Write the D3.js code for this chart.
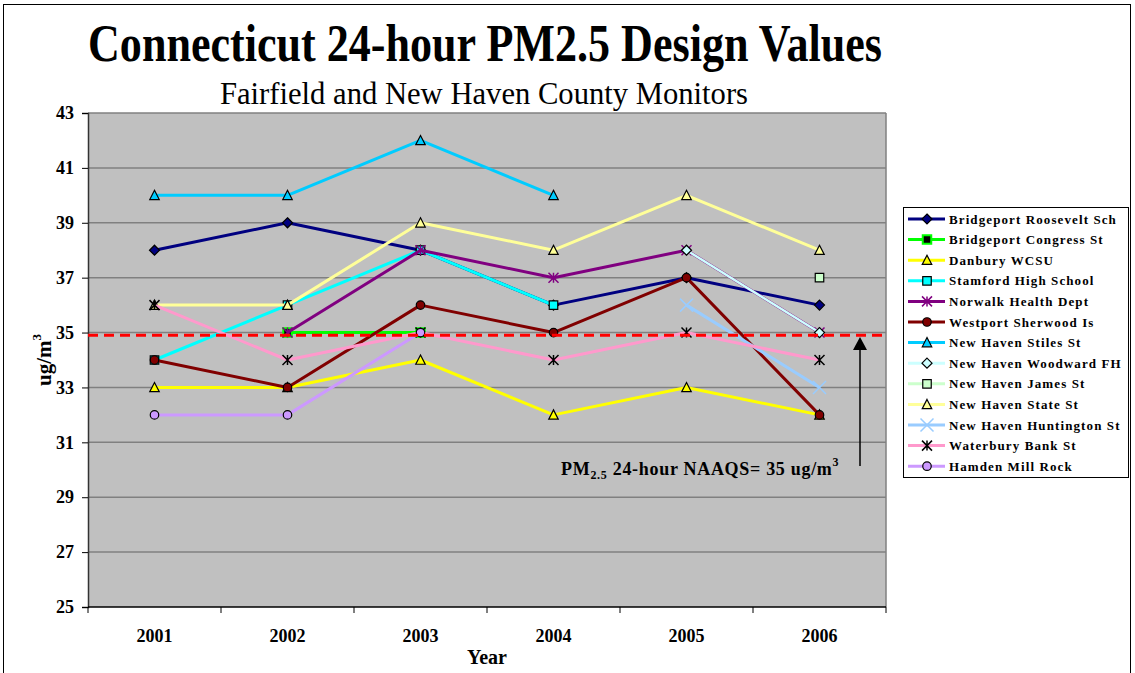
<!DOCTYPE html>
<html>
<head>
<meta charset="utf-8">
<script src="https://cdn.jsdelivr.net/npm/d3@7"></script>
<style>
  html, body { margin: 0; padding: 0; background: #fff; }
  svg { display: block; }
  text { font-family: "Liberation Serif", "Times New Roman", serif; }
</style>
</head>
<body>
<svg id="chart" width="1135" height="673"></svg>
<script>
// ---- data ----
const years = ["2001", "2002", "2003", "2004", "2005", "2006"];
const yTicks = [25, 27, 29, 31, 33, 35, 37, 39, 41, 43];
const naaqs = 34.9;

const seriesNames = [
  "Bridgeport Roosevelt Sch", "Bridgeport Congress St", "Danbury WCSU",
  "Stamford High School", "Norwalk Health Dept", "Westport Sherwood Is",
  "New Haven Stiles St", "New Haven Woodward FH", "New Haven James St",
  "New Haven State St", "New Haven Huntington St", "Waterbury Bank St",
  "Hamden Mill Rock"
];
const bridgeportRoosevelt = [38, 39, 38, 36, 37, 36];
const bridgeportCongress  = [null, 35, 35, null, null, null];
const danbury             = [33, 33, 34, 32, 33, 32];
const stamford            = [34, 36, 38, 36, null, null];
const norwalk             = [null, 35, 38, 37, 38, 35];
const westport            = [34, 33, 36, 35, 37, 32];
const stiles              = [40, 40, 42, 40, null, null];
const woodward            = [null, null, null, null, 38, 35];
const james               = [null, null, null, null, null, 37];
const stateSt             = [36, 36, 39, 38, 40, 38];
const huntington          = [null, null, null, null, 36, 33];
const waterbury           = [36, 34, 35, 34, 35, 34];
const hamden              = [32, 32, 35, null, null, null];
const seriesValues = [bridgeportRoosevelt, bridgeportCongress, danbury, stamford,
  norwalk, westport, stiles, woodward, james, stateSt, huntington, waterbury, hamden];

// ---- styles ----
const styles = [
  {color: "#000080", marker: "diamond", fill: "#000080", stroke: "#000", w: 3},
  {color: "#00FF00", marker: "square", fill: "#000", stroke: "#00FF00", w: 3},
  {color: "#FFFF00", marker: "triangle", fill: "#FFFF00", stroke: "#000", w: 3},
  {color: "#00FFFF", marker: "square", fill: "#00FFFF", stroke: "#000", w: 3},
  {color: "#800080", marker: "asterisk", fill: "none", stroke: "#800080", w: 3},
  {color: "#800000", marker: "circle", fill: "#800000", stroke: "#000", w: 3},
  {color: "#00CCFF", marker: "triangle", fill: "#00CCFF", stroke: "#000", w: 3},
  {color: "#CCFFFF", marker: "diamond", fill: "#CCFFFF", stroke: "#000", w: 2.5},
  {color: "#CCFFCC", marker: "square", fill: "#CCFFCC", stroke: "#000", w: 3},
  {color: "#FFFF99", marker: "triangle", fill: "#FFFF99", stroke: "#000", w: 3},
  {color: "#99CCFF", marker: "x", fill: "none", stroke: "#99CCFF", w: 3},
  {color: "#FF99CC", marker: "asterisk", fill: "none", stroke: "#000", w: 3},
  {color: "#CC99FF", marker: "circle", fill: "#CC99FF", stroke: "#000", w: 3}
];

const svg = d3.select("#chart");
const M = {left: 88, right: 886, top: 113, bottom: 607};

const x = d3.scaleBand().domain(years).range([M.left, M.right]).padding(0);
const y = d3.scaleLinear().domain([25, 43]).range([M.bottom, M.top]);
const cx = d => x(d) + x.bandwidth() / 2;

// outer frame
svg.append("rect").attr("x", 3.5).attr("y", 4.5).attr("width", 1127).attr("height", 680)
  .attr("fill", "none").attr("stroke", "#000").attr("stroke-width", 1);

// plot background
svg.append("rect").attr("x", M.left).attr("y", M.top)
  .attr("width", M.right - M.left).attr("height", M.bottom - M.top)
  .attr("fill", "#C0C0C0");

// gridlines
svg.append("g").selectAll("line").data(yTicks.filter(t => t > 25)).join("line")
  .attr("x1", M.left).attr("x2", M.right)
  .attr("y1", d => y(d)).attr("y2", d => y(d))
  .attr("stroke", "#808080").attr("stroke-width", 1.5);
// right border
svg.append("line").attr("x1", M.right).attr("x2", M.right).attr("y1", M.top).attr("y2", M.bottom)
  .attr("stroke", "#808080").attr("stroke-width", 1.5);

// y axis
const yAxis = svg.append("g").attr("transform", `translate(${M.left},0)`)
  .call(d3.axisLeft(y).tickValues(yTicks).tickSize(6).tickPadding(8));
yAxis.select(".domain").attr("stroke", "#333").attr("stroke-width", 1.5);
yAxis.selectAll(".tick line").attr("stroke", "#000");
yAxis.selectAll("text").attr("font-family", "Liberation Serif").attr("font-weight", "bold")
  .attr("font-size", 18).attr("fill", "#000");

// x axis (ticks at band boundaries)
const xAxisG = svg.append("g").attr("transform", `translate(0,${M.bottom})`);
xAxisG.append("line").attr("x1", M.left).attr("x2", M.right).attr("y1", 0).attr("y2", 0)
  .attr("stroke", "#000").attr("stroke-width", 1.5);
const bounds = years.map(d => x(d)).concat([x(years[years.length - 1]) + x.bandwidth()]);
xAxisG.selectAll("line.tk").data(bounds).join("line").attr("class", "tk")
  .attr("x1", d => d).attr("x2", d => d).attr("y1", 0).attr("y2", 6)
  .attr("stroke", "#000");
xAxisG.selectAll("text").data(years).join("text")
  .attr("x", d => cx(d)).attr("y", 35).attr("text-anchor", "middle")
  .attr("font-weight", "bold").attr("font-size", 18).text(d => d);

// marker path generator
function markerPath(type, s) {
  switch (type) {
    case "diamond": return `M0,${-s}L${s},0L0,${s}L${-s},0Z`;
    case "square": return `M${-s*0.85},${-s*0.85}H${s*0.85}V${s*0.85}H${-s*0.85}Z`;
    case "triangle": return `M0,${-s}L${s*0.95},${s*0.85}H${-s*0.95}Z`;
    case "circle": return d3.arc()({innerRadius: 0, outerRadius: s * 0.85, startAngle: 0, endAngle: 2 * Math.PI});
    case "x": return `M${-s*1.3},${-s*1.3}L${s*1.3},${s*1.3}M${s*1.3},${-s*1.3}L${-s*1.3},${s*1.3}`;
    case "asterisk": return `M${-s},${-s}L${s},${s}M${s},${-s}L${-s},${s}M0,${-s}V${s}`;
  }
}
function drawMarker(g, st, px, py) {
  const open = (st.marker === "x" || st.marker === "asterisk");
  g.append("path").attr("d", markerPath(st.marker, 5))
    .attr("transform", `translate(${px},${py})`)
    .attr("fill", open ? "none" : st.fill)
    .attr("stroke", st.stroke)
    .attr("stroke-width", open ? 1.5 : (st.marker === "square" && st.stroke !== "#000" ? 2 : 1.2));
}

// series
const line = d3.line().defined(d => d.v !== null).x(d => cx(d.year)).y(d => y(d.v));
const seriesG = svg.append("g");
seriesValues.forEach((vals, i) => {
  const st = styles[i];
  const pts = years.map((yr, j) => ({year: yr, v: vals[j]}));
  const g = seriesG.append("g");
  g.append("path").datum(pts).attr("d", line).attr("fill", "none")
    .attr("stroke", st.color).attr("stroke-width", st.w).attr("stroke-linejoin", "round");
  pts.filter(p => p.v !== null).forEach(p => drawMarker(g, st, cx(p.year), y(p.v)));
});

// NAAQS dashed line
svg.append("line").attr("x1", M.left).attr("x2", M.right + 2)
  .attr("y1", y(naaqs)).attr("y2", y(naaqs))
  .attr("stroke", "#FF0000").attr("stroke-width", 3).attr("stroke-dasharray", "10,6");

// arrow
svg.append("line").attr("x1", 860).attr("x2", 860).attr("y1", 466).attr("y2", 350)
  .attr("stroke", "#000").attr("stroke-width", 1.5);
svg.append("path").attr("d", "M860,337L853,350H867Z").attr("fill", "#000");

// annotation
const ann = svg.append("text").attr("x", 561).attr("y", 475)
  .attr("font-weight", "bold").attr("font-size", 18).attr("letter-spacing", 0.7);
ann.append("tspan").text("PM");
ann.append("tspan").attr("font-size", 12).attr("dy", 4).text("2.5");
ann.append("tspan").attr("dy", -4).text(" 24-hour NAAQS= 35 ug/m");
ann.append("tspan").attr("font-size", 12).attr("dy", -9).text("3");

// titles
svg.append("text").attr("x", 485).attr("y", 61).attr("text-anchor", "middle")
  .attr("font-weight", "bold").attr("font-size", 52)
  .attr("textLength", 794).attr("lengthAdjust", "spacingAndGlyphs")
  .text("Connecticut 24-hour PM2.5 Design Values");
svg.append("text").attr("x", 484).attr("y", 104).attr("text-anchor", "middle")
  .attr("font-size", 31).attr("textLength", 528).attr("lengthAdjust", "spacingAndGlyphs")
  .text("Fairfield and New Haven County Monitors");

// axis titles
svg.append("text").attr("x", 487).attr("y", 664).attr("text-anchor", "middle")
  .attr("font-weight", "bold").attr("font-size", 20).text("Year");
const yt = svg.append("text").attr("transform", "translate(51,360) rotate(-90)")
  .attr("text-anchor", "middle").attr("font-weight", "bold").attr("font-size", 21);
yt.append("tspan").text("ug/m");
yt.append("tspan").attr("font-size", 13).attr("dy", -10).text("3");

// legend
const lg = svg.append("g");
lg.append("rect").attr("x", 903.5).attr("y", 207.5).attr("width", 225).attr("height", 270)
  .attr("fill", "#fff").attr("stroke", "#000").attr("stroke-width", 1);
seriesNames.forEach((name, i) => {
  const st = styles[i];
  const yy = 219 + i * 20.6;
  const g = lg.append("g");
  g.append("line").attr("x1", 908).attr("x2", 945).attr("y1", yy).attr("y2", yy)
    .attr("stroke", st.color).attr("stroke-width", 3);
  drawMarker(g, st, 927, yy);
  g.append("text").attr("x", 949).attr("y", yy + 4.5).attr("font-weight", "bold")
    .attr("font-size", 13).attr("letter-spacing", 1.1).text(name);
});
</script>
</body>
</html>
